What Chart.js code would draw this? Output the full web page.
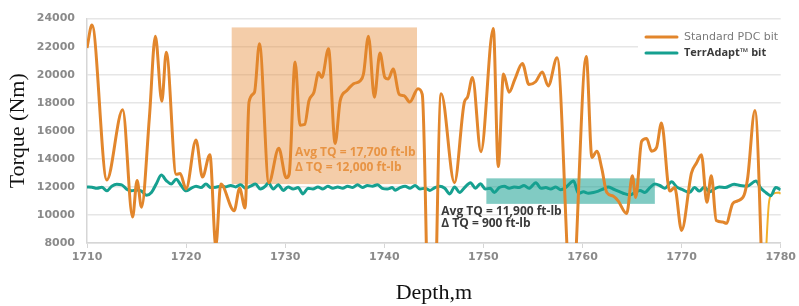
<!DOCTYPE html>
<html>
<head>
<meta charset="utf-8">
<title>Torque vs Depth</title>
<script src="https://cdn.jsdelivr.net/npm/chart.js@4.4.1/dist/chart.umd.min.js"></script>
<style>
    html, body { margin: 0; padding: 0; background: #fff; }
    #wrap { width: 799px; height: 306px; }
</style>
</head>
<body>
<div id="wrap"><canvas id="torqueChart" width="799" height="306"></canvas></div>
<script>
// Standard PDC bit torque trace (depth in m, torque in Nm)
const pdcDepth = [
    1710.0, 1710.5, 1712.0, 1713.6, 1714.6, 1715.05, 1715.5, 1716.3, 1716.9, 1717.55,
    1718.0, 1719.0, 1719.4, 1720.0, 1721.0, 1721.65, 1722.4, 1723.0, 1723.5, 1724.85,
    1725.4, 1725.95, 1726.35, 1726.9, 1727.4, 1728.35, 1729.35, 1730.1, 1730.4, 1731.0,
    1731.5, 1731.97, 1732.4, 1732.9, 1733.37, 1733.7, 1734.37, 1735.04, 1735.55, 1736.2,
    1736.9, 1737.55, 1737.9, 1738.4, 1739.0, 1739.56, 1740.06, 1740.4, 1740.9, 1741.5,
    1742.0, 1742.57, 1743.4, 1743.83, 1744.75, 1745.74, 1747.08, 1748.08, 1748.4, 1748.9,
    1749.75, 1751.0, 1751.5, 1752.03, 1752.6, 1753.16, 1753.93, 1754.6, 1755.27, 1755.94,
    1756.54, 1757.44, 1758.9, 1760.38, 1760.95, 1761.45, 1761.95, 1762.45, 1763.1, 1763.6,
    1764.46, 1765.03, 1765.37, 1765.97, 1766.47, 1766.97, 1767.47, 1767.97, 1768.8, 1769.3,
    1770.0, 1771.0, 1771.5, 1772.0, 1772.55, 1773.0, 1773.5, 1774.15, 1774.5, 1775.15,
    1775.65, 1776.3, 1776.67, 1777.4, 1778.3
];
const pdcTorque = [
    21900, 23550, 12500, 17500, 9850, 12450, 10550, 17000, 22750, 18100,
    21600, 12900, 12950, 11850, 15350, 12700, 14300, 7800, 12200, 10300,
    11900, 10500, 18050, 18750, 22200, 12300, 14750, 12650, 12900, 20900,
    16400, 16450, 18150, 18750, 20150, 19800, 21850, 15100, 18150, 18850,
    19350, 19550, 20050, 22750, 18400, 21550, 19800, 19700, 20400, 18600,
    18500, 18050, 19000, 18600, -6000, 18650, 12300, 18050, 18400, 19800,
    14500, 23300, 13450, 20050, 18750, 19650, 20800, 19300, 19500, 20200,
    19200, 21200, 3500, 21300, 14100, 14550, 13300, 11600, 11350, 11000,
    10100, 12800, 11250, 15250, 15450, 14550, 14800, 16550, 11700, 11950,
    8900, 13000, 13700, 14300, 10900, 12800, 9600, 9500, 9400, 10800,
    11000, 11400, 12650, 17450, 2000
];

// TerrAdapt bit torque trace
const terrDepth = [
    1710, 1710.5, 1711, 1711.5, 1712, 1712.5, 1713, 1713.5, 1714, 1714.5,
    1715, 1715.5, 1716, 1716.5, 1717, 1717.5, 1718, 1718.5, 1719, 1719.5,
    1720, 1720.5, 1721, 1721.5, 1722, 1722.5, 1723, 1723.5, 1724, 1724.5,
    1725, 1725.5, 1726, 1726.5, 1727, 1727.5, 1728, 1728.3, 1728.8, 1729.3,
    1729.8, 1730.3, 1730.8, 1731.3, 1731.8, 1732.3, 1732.8, 1733.3, 1733.8, 1734.3,
    1734.8, 1735.3, 1735.8, 1736.3, 1736.8, 1737.3, 1737.8, 1738.3, 1738.8, 1739.3,
    1739.8, 1740.3, 1740.8, 1741.1, 1741.6, 1742.1, 1742.6, 1743.1, 1743.6, 1744.1,
    1744.6, 1745.1, 1745.6, 1746.1, 1746.6, 1747.1, 1747.6, 1748.1, 1748.7, 1749.2,
    1749.7, 1750.2, 1750.7, 1751.1, 1751.6, 1752.1, 1752.6, 1753.1, 1753.6, 1754.1,
    1754.6, 1755.3, 1755.8, 1756.3, 1756.8, 1757.3, 1757.8, 1758.3, 1759.1, 1759.6,
    1760.1, 1760.6, 1761.1, 1761.6, 1762.1, 1762.6, 1763.1, 1763.6, 1764.1, 1764.8,
    1765.3, 1765.8, 1766.3, 1766.8, 1767.3, 1767.8, 1768.3, 1769.0, 1769.5, 1770.1,
    1770.8, 1771.3, 1771.8, 1772.3, 1772.8, 1773.3, 1773.8, 1774.4, 1775.3, 1775.9,
    1776.6, 1777.5, 1778.0, 1778.5, 1779.0, 1779.5, 1780
];
const terrTorque = [
    12000, 11980, 11900, 11980, 11720, 12050, 12190, 12150, 11840, 11720,
    11780, 11700, 11400, 11600, 12230, 12840, 12450, 12200, 12540, 12100,
    11720, 11900, 12050, 11950, 12200, 11950, 11980, 12050, 12000, 12100,
    12000, 12150, 11900, 12050, 12200, 11850, 12050, 12300, 11850, 12150,
    11750, 12000, 11850, 11950, 11500, 11900, 11850, 12000, 11850, 12050,
    11900, 12000, 11900, 12050, 11950, 12150, 11950, 12100, 12050, 12150,
    11900, 11850, 11950, 11770, 11950, 12050, 11900, 12100, 11850, 11900,
    11750, 11950, 12050, 11900, 11500, 12000, 11600, 11950, 12300, 11900,
    12230, 11850, 11900, 11600, 11950, 12050, 11900, 12000, 11950, 12100,
    11900, 12300, 11900, 11950, 11850, 12000, 11800, 11950, 12420, 11530,
    11650, 11550, 11600, 11700, 11850, 12000, 11850, 11700, 11550, 11420,
    11600, 11750, 11600, 11950, 12200, 12100, 11900, 12370, 12000, 11800,
    11600, 11950, 11700, 12000, 11650, 11850, 12000, 11950, 12190, 12100,
    12050, 12420, 11900, 11600, 11370, 11950, 11800
];

// short yellow tail at the end of the PDC run
const tailDepth = [1778.3, 1778.84, 1779.2, 1779.85, 1780];
const tailTorque = [4000, 11000, 11500, 11600, 11500];

// shaded ranges: [depth from, depth to, torque low, torque high]
const pdcBand = [1724.6, 1743.3, 12200, 23370];
const terrBand = [1750.3, 1767.3, 10790, 12610];

// annotation text: [depth, torque line 1, torque line 2]
const pdcNoteAt = [1731.0, 14450, 13350];
const pdcNotes = ['Avg TQ = 17,700 ft-lb', '\u0394 TQ = 12,000 ft-lb'];
const terrNoteAt = [1745.75, 10270, 9380];
const terrNotes = ['Avg TQ = 11,900 ft-lb', '\u0394 TQ = 900 ft-lb'];

const seriesNames = ['Standard PDC bit', 'TerrAdapt\u2122 bit'];
const depthRange = [1710, 1780, 10];
const torqueRange = [8000, 24000, 2000];

const ORANGE = '#e2862c';
const TEAL = '#16a090';
const NOTE_FONT = "bold 12px 'Open Sans'";

function toPoints(xs, ys) {
    return xs.map((x, i) => ({ x: x, y: ys[i] }));
}

// Shaded boxes, notes and the legend box
const annotationPlugin = {
    id: 'annotations',
    beforeDatasetsDraw(chart) {
        const { ctx, scales: { x, y } } = chart;
        const drawBand = (band, color) => {
            const x1 = x.getPixelForValue(band[0]);
            const x2 = x.getPixelForValue(band[1]);
            const y1 = y.getPixelForValue(band[3]);
            const y2 = y.getPixelForValue(band[2]);
            ctx.save();
            ctx.fillStyle = color;
            ctx.fillRect(x1, y1, x2 - x1, y2 - y1);
            ctx.restore();
        };
        drawBand(pdcBand, 'rgba(230, 145, 65, 0.45)');
        drawBand(terrBand, 'rgba(26, 160, 145, 0.55)');
    },
    afterDatasetsDraw(chart) {
        const { ctx, scales: { x, y } } = chart;
        const drawNotes = (at, lines, color) => {
            ctx.save();
            ctx.font = NOTE_FONT;
            ctx.fillStyle = color;
            ctx.textBaseline = 'middle';
            ctx.textAlign = 'left';
            ctx.fillText(lines[0], x.getPixelForValue(at[0]), y.getPixelForValue(at[1]));
            ctx.fillText(lines[1], x.getPixelForValue(at[0]), y.getPixelForValue(at[2]));
            ctx.restore();
        };
        drawNotes(pdcNoteAt, pdcNotes, '#e89444');
        drawNotes(terrNoteAt, terrNotes, '#3a3a3a');

        // Legend (top right, white backing over the grid)
        ctx.save();
        ctx.fillStyle = '#ffffff';
        ctx.fillRect(638, 25, 161, 38);
        const items = [
            { name: seriesNames[0], color: ORANGE, font: "11px 'DejaVu Sans'", text: '#7a7a7a', y: 37 },
            { name: seriesNames[1], color: TEAL, font: "bold 11px 'Open Sans'", text: '#3a3a3a', y: 53 }
        ];
        items.forEach(item => {
            ctx.strokeStyle = item.color;
            ctx.lineWidth = 3;
            ctx.lineCap = 'round';
            ctx.beginPath();
            ctx.moveTo(646, item.y);
            ctx.lineTo(677, item.y);
            ctx.stroke();
            ctx.font = item.font;
            ctx.fillStyle = item.text;
            ctx.textBaseline = 'middle';
            ctx.fillText(item.name, 684, item.y);
        });
        ctx.restore();
    }
};

document.addEventListener('DOMContentLoaded', function() {
    const ctx = document.getElementById('torqueChart').getContext('2d');

    new Chart(ctx, {
        type: 'line',
        data: {
            datasets: [
                {
                    label: seriesNames[0],
                    data: toPoints(pdcDepth, pdcTorque),
                    borderColor: ORANGE,
                    borderWidth: 3,
                    pointRadius: 0,
                    cubicInterpolationMode: 'monotone'
                },
                {
                    label: seriesNames[1],
                    data: toPoints(terrDepth, terrTorque),
                    borderColor: TEAL,
                    borderWidth: 3,
                    pointRadius: 0,
                    cubicInterpolationMode: 'monotone'
                },
                {
                    label: 'tail',
                    data: toPoints(tailDepth, tailTorque),
                    borderColor: '#f2b02a',
                    borderWidth: 2,
                    pointRadius: 0,
                    cubicInterpolationMode: 'monotone'
                }
            ]
        },
        options: {
            responsive: false,
            animation: false,
            layout: { padding: { top: 15, right: 14, left: 0, bottom: 0 } },
            plugins: {
                legend: { display: false },
                tooltip: { enabled: false }
            },
            scales: {
                x: {
                    type: 'linear',
                    min: depthRange[0],
                    max: depthRange[1],
                    afterFit: function(scale) { scale.height = 63; },
                    ticks: {
                        stepSize: depthRange[2],
                        color: '#8a8a8a',
                        padding: 3,
                        font: { family: 'DejaVu Sans', size: 11, weight: 'bold' },
                        callback: function(value) { return String(value); }
                    },
                    grid: { drawOnChartArea: false, drawTicks: true, tickLength: 5, color: '#d6d6d6' },
                    border: { color: '#d6d6d6', width: 1.5 },
                    title: {
                        display: true,
                        text: 'Depth,m',
                        color: '#111',
                        padding: { top: 0, bottom: 0 },
                        font: { family: 'Liberation Serif', size: 22 }
                    }
                },
                y: {
                    min: torqueRange[0],
                    max: torqueRange[1],
                    afterFit: function(scale) { scale.width = 87; },
                    ticks: {
                        stepSize: torqueRange[2],
                        color: '#8a8a8a',
                        padding: 12,
                        font: { family: 'DejaVu Sans', size: 11, weight: 'bold' },
                        callback: function(value) { return String(value); }
                    },
                    grid: { drawTicks: false, color: '#e6e6e6', lineWidth: 1.5 },
                    border: { color: '#d6d6d6', width: 1.5 },
                    title: {
                        display: true,
                        text: 'Torque (Nm)',
                        color: '#111',
                        padding: { top: 5, bottom: 0 },
                        font: { family: 'Liberation Serif', size: 22 }
                    }
                }
            }
        },
        plugins: [annotationPlugin]
    });
});
</script>
</body>
</html>
